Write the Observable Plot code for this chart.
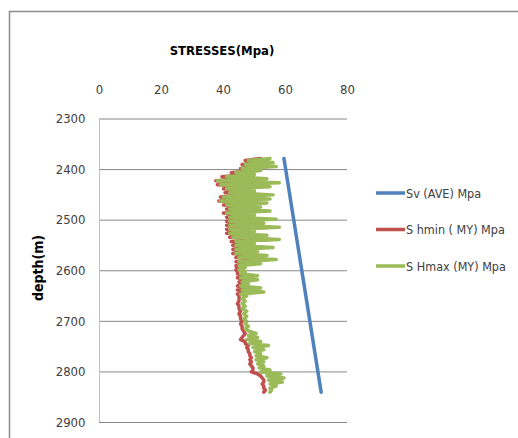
<!DOCTYPE html>
<html>
<head>
<meta charset="utf-8">
<script src="https://cdn.jsdelivr.net/npm/d3@7"></script>
<script src="https://cdn.jsdelivr.net/npm/@observablehq/plot@0.6"></script>
<style>
  html, body { margin: 0; padding: 0; background: #fff; }
  #chart { width: 518px; height: 438px; overflow: hidden; }
</style>
</head>
<body>
<div id="chart"></div>
<script>
// ---- data ----
const xTicks = [0, 20, 40, 60, 80];
const depthTicks = [2300, 2400, 2500, 2600, 2700, 2800, 2900];
const seriesNames = ["Sv (AVE) Mpa", "S hmin ( MY) Mpa", "S Hmax (MY) Mpa"];
const seriesColors = ["#4F81BD", "#C0504D", "#9BBB59"];

const svDepth = [2378, 2840];
const svValue = [59.5, 71.5];

const depth = [2378,2382,2386,2390,2394,2398,2402,2406,2410,2414,2418,2422,2426,2430,2434,2438,2442,2446,2450,2454,2458,2462,2466,2470,2474,2478,2482,2486,2490,2494,2498,2502,2506,2510,2514,2518,2522,2526,2530,2534,2538,2542,2546,2550,2554,2558,2562,2566,2570,2574,2578,2582,2586,2590,2594,2598,2602,2606,2610,2614,2618,2622,2626,2630,2634,2638,2642,2646,2650,2655,2660,2665,2670,2675,2680,2685,2690,2695,2700,2705,2710,2715,2720,2724,2728,2732,2736,2740,2744,2748,2752,2756,2760,2764,2768,2772,2776,2780,2784,2788,2792,2796,2800,2804,2808,2812,2816,2820,2824,2828,2832,2836,2840];

const shmax = [55,48,56,47,57,46,52,44,50,41,54,38,58,39,55,41,50,42,56,40,55,39,54,41,52,42,55,41,50,42,57,42,53,42,58,42,50,42,54,43,58,44,50,44,56,44,51,44,54,45,57,45,52,45,47,45,47,45.5,51,45.5,51,46,48,45.5,52,46,53,45.5,47.5,46,47,46,47,46,47.5,46.5,47.5,46.5,47.5,47,48,47,48.5,50.5,48,51,47.5,52,48.5,54.5,49.5,53,50,52,50.5,54,50.5,53,51,53,51.5,55,52,58.5,54,59.5,54.5,59,55,57,55,55.5,55];

const shmin = [52,47,53,46,54,45.5,49,42.5,47,39.5,51,37.5,55,38,52,40,47,40.5,53,39,52,38.5,51,40,49,41,52,40,47,41,54,41,50,41,55,41,47,41,51,42,55,42.5,47,43,53,43,48,43,51,44,54,44,49,44,44.5,44,44.5,44.5,48,44.5,48,45,45.5,44.5,49,44.5,50,44.5,45,45,45,44.5,45,45,45.5,45,45.5,45.5,46,45.5,46,46,46.5,47,46.5,46,45.5,47,47,48,47.5,48,48,48.5,48.5,49,48.5,49,48.5,49,49.5,49.5,49,51,52,52.5,53,53,52.5,53,53,53.5,53];

// ---- tables built from arrays ----
const svData = svDepth.map((d, i) => ({depth: d, value: svValue[i]}));
const minData = depth.map((d, i) => ({depth: d, value: shmin[i]}));
const maxData = depth.map((d, i) => ({depth: d, value: shmax[i]}));

const font = "'DejaVu Sans Condensed', 'DejaVu Sans', sans-serif";

const plot = Plot.plot({
  width: 518,
  height: 438,
  marginLeft: 99,
  marginRight: 171,
  marginTop: 118.5,
  marginBottom: 16,
  style: {fontFamily: font, fontStretch: "condensed", fontSize: "13px", color: "#404040", background: "white", overflow: "visible"},
  x: {domain: [0, 80]},
  y: {domain: [2300, 2900], reverse: true},
  marks: [
    Plot.ruleY(depthTicks, {x1: 0, x2: 80, stroke: "#868686", strokeWidth: 1}),
    Plot.ruleX([0], {y1: 2300, y2: 2900, stroke: "#BFBFBF", strokeWidth: 1}),
    Plot.axisX(xTicks, {anchor: "top", tickSize: 0, tickPadding: 25, label: null, fill: "#404040", tickFormat: d => String(d)}),
    Plot.axisY(depthTicks, {anchor: "left", tickSize: 0, tickPadding: 14, label: null, fill: "#404040", tickFormat: d => String(d)}),
    Plot.line(svData, {x: "value", y: "depth", stroke: seriesColors[0], strokeWidth: 3.5}),
    Plot.line(minData, {x: "value", y: "depth", stroke: seriesColors[1], strokeWidth: 3.5}),
    Plot.line(maxData, {x: "value", y: "depth", stroke: seriesColors[2], strokeWidth: 3.5})
  ]
});

document.getElementById("chart").appendChild(plot);

// decorations: chart border, titles, legend
const svg = d3.select(plot);
svg.append("path")
  .attr("d", "M9.5,440 V11.5 H520")
  .attr("fill", "none").attr("stroke", "#8C8C8C").attr("stroke-width", 1.5);

svg.append("text")
  .attr("x", 222).attr("y", 50).attr("text-anchor", "middle").attr("dominant-baseline", "central")
  .attr("font-family", font).attr("font-stretch", "condensed").attr("font-weight", "bold").attr("font-size", 13).attr("fill", "#000")
  .text("STRESSES(Mpa)");

svg.append("text")
  .attr("transform", "translate(37.5,268) rotate(-90)")
  .attr("text-anchor", "middle").attr("dominant-baseline", "central")
  .attr("font-family", "'DejaVu Sans', sans-serif").attr("font-weight", "bold").attr("font-size", 14)
  .attr("fill", "#000")
  .text("depth(m)");

const legendY = [193, 229.5, 266];
seriesNames.forEach((name, i) => {
  svg.append("line")
    .attr("x1", 376).attr("x2", 405).attr("y1", legendY[i]).attr("y2", legendY[i])
    .attr("stroke", seriesColors[i]).attr("stroke-width", 3.5);
  svg.append("text")
    .attr("x", 406).attr("y", legendY[i]).attr("text-anchor", "start").attr("dominant-baseline", "central")
    .attr("font-family", font).attr("font-stretch", "condensed").attr("font-size", 12.5).attr("fill", "#404040")
    .text(name);
});
</script>
</body>
</html>
